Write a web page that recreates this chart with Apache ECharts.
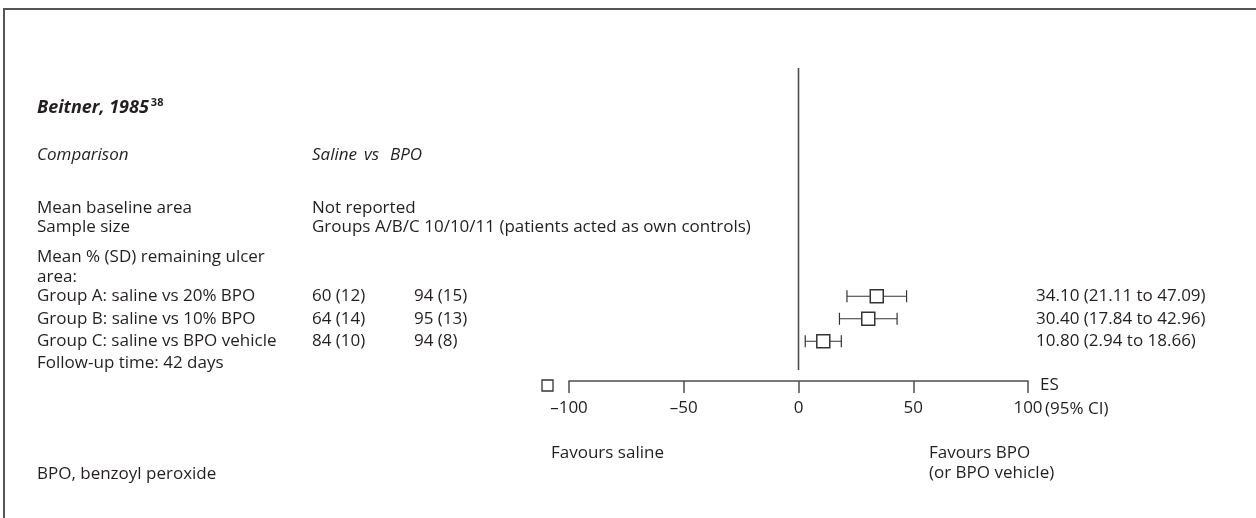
<!DOCTYPE html>
<html>
<head>
<meta charset="utf-8">
<script src="https://cdn.jsdelivr.net/npm/echarts@6/dist/echarts.min.js"></script>
<style>
  html, body { margin: 0; padding: 0; background: #fff; }
  #chart { width: 1256px; height: 518px; }
</style>
</head>
<body>
<div id="chart"></div>
<script>
// Beitner 1985: saline vs benzoyl peroxide (BPO), remaining ulcer area
const rowLabels = ['Group A: saline vs 20% BPO', 'Group B: saline vs 10% BPO', 'Group C: saline vs BPO vehicle'];
const salineMeanSD = ['60 (12)', '64 (14)', '84 (10)'];
const bpoMeanSD = ['94 (15)', '95 (13)', '94 (8)'];
const effectSize = [34.10, 30.40, 10.80];
const ciLow = [21.11, 17.84, 2.94];
const ciHigh = [47.09, 42.96, 18.66];
const axisTicks = [-100, -50, 0, 50, 100];

const FONT = '"Open Sans"';
const INK = '#231f20';
const LINE = '#4d4d4d';
const FS = 17;

const chart = echarts.init(document.getElementById('chart'), null, { renderer: 'canvas' });

const forestData = rowLabels.map((name, i) => [effectSize[i], ciLow[i], ciHigh[i], i]);

function ciText(i) {
  return effectSize[i].toFixed(2) + ' (' + ciLow[i].toFixed(2) + ' to ' + ciHigh[i].toFixed(2) + ')';
}

function txt(x, y, text, extra) {
  return {
    type: 'text', x: x, y: y,
    style: Object.assign({ text: text, fill: INK, font: FS + 'px ' + FONT, textVerticalAlign: 'middle' }, (extra || {}))
  };
}

function renderForest(params, api) {
  const i = api.value(3);
  const yc = api.coord([0, i])[1];
  const xm = api.coord([api.value(0), i])[0];
  const xl = api.coord([api.value(1), i])[0];
  const xh = api.coord([api.value(2), i])[0];
  const capH = 6, box = 6.5;
  const stroke = { stroke: '#333', lineWidth: 1.2 };
  const font = FS + 'px ' + FONT;
  return {
    type: 'group',
    children: [
      { type: 'line', shape: { x1: xl, y1: yc, x2: xh, y2: yc }, style: stroke },
      { type: 'line', shape: { x1: xl, y1: yc - capH, x2: xl, y2: yc + capH }, style: stroke },
      { type: 'line', shape: { x1: xh, y1: yc - capH, x2: xh, y2: yc + capH }, style: stroke },
      { type: 'rect', shape: { x: xm - box, y: yc - box, width: box * 2, height: box * 2 },
        style: { fill: '#fff', stroke: '#333', lineWidth: 1.5 } },
      { type: 'text', x: 37, y: yc, style: { text: rowLabels[i], fill: INK, font: font, textVerticalAlign: 'middle' } },
      { type: 'text', x: 312, y: yc, style: { text: salineMeanSD[i], fill: INK, font: font, textVerticalAlign: 'middle' } },
      { type: 'text', x: 414, y: yc, style: { text: bpoMeanSD[i], fill: INK, font: font, textVerticalAlign: 'middle' } },
      { type: 'text', x: 1036, y: yc, style: { text: ciText(i), fill: INK, font: font, textVerticalAlign: 'middle' } }
    ]
  };
}

function renderZeroLine(params, api) {
  const x = api.coord([api.value(0), 0])[0];
  return { type: 'line', shape: { x1: x, y1: 68, x2: x, y2: 370 }, style: { stroke: LINE, lineWidth: 1.6 } };
}

const option = {
  animation: false,
  backgroundColor: '#fff',
  textStyle: { fontFamily: FONT },
  grid: { left: 569, right: 228, top: 285, height: 67.5 },
  xAxis: {
    type: 'value', min: axisTicks[0], max: axisTicks[axisTicks.length - 1],
    interval: axisTicks[1] - axisTicks[0],
    position: 'bottom', offset: 28.5,
    axisLine: { show: true, lineStyle: { color: LINE, width: 1.5 } },
    axisTick: { show: true, length: 12, lineStyle: { color: LINE, width: 1.5 } },
    axisLabel: {
      margin: 19, color: INK, fontSize: FS, fontFamily: 'Open Sans',
      formatter: v => (v < 0 ? '\u2013' + Math.abs(v) : String(v))
    },
    splitLine: { show: false }
  },
  yAxis: { type: 'category', data: rowLabels, inverse: true, show: false },
  series: [
    { type: 'custom', renderItem: renderZeroLine, data: [[0]], z: 1 },
    { type: 'custom', renderItem: renderForest, data: forestData, z: 2,
      encode: { x: [0, 1, 2], y: 3 } }
  ],
  graphic: [
    // frame
    { type: 'line', shape: { x1: 3, y1: 9, x2: 1256, y2: 9 }, style: { stroke: '#555', lineWidth: 2 } },
    { type: 'line', shape: { x1: 4, y1: 9, x2: 4, y2: 518 }, style: { stroke: '#555', lineWidth: 2 } },
    // study heading
    { type: 'text', x: 37, y: 108, style: {
        text: '{t|Beitner, 1985}{s|38}', textVerticalAlign: 'middle',
        rich: {
          t: { font: 'italic bold 18px ' + FONT, fill: INK },
          s: { font: 'bold 11px ' + FONT, fill: INK, verticalAlign: 'top', padding: [0, 0, 10, 2] }
        } } },
    txt(37, 155, 'Comparison', { font: 'italic ' + FS + 'px ' + FONT }),
    txt(312, 155, 'Saline', { font: 'italic ' + FS + 'px ' + FONT }),
    txt(364, 155, 'vs', { font: 'italic ' + FS + 'px ' + FONT }),
    txt(390, 155, 'BPO', { font: 'italic ' + FS + 'px ' + FONT }),
    txt(37, 208, 'Mean baseline area'),
    txt(312, 208, 'Not reported'),
    txt(37, 227, 'Sample size'),
    txt(312, 227, 'Groups A/B/C 10/10/11 (patients acted as own controls)'),
    txt(37, 257, 'Mean % (SD) remaining ulcer'),
    txt(37, 277, 'area:'),
    txt(37, 363, 'Follow-up time: 42 days'),
    txt(37, 474, 'BPO, benzoyl peroxide'),
    // key square and axis captions
    { type: 'rect', shape: { x: 542, y: 380, width: 11, height: 11 }, style: { fill: '#fff', stroke: '#333', lineWidth: 1.3 } },
    txt(1040, 385, 'ES'),
    txt(1045, 409, '(95% CI)'),
    txt(551, 453, 'Favours saline'),
    txt(929, 453, 'Favours BPO'),
    txt(929, 473, '(or BPO vehicle)')
  ]
};

chart.setOption(option);
</script>
</body>
</html>
